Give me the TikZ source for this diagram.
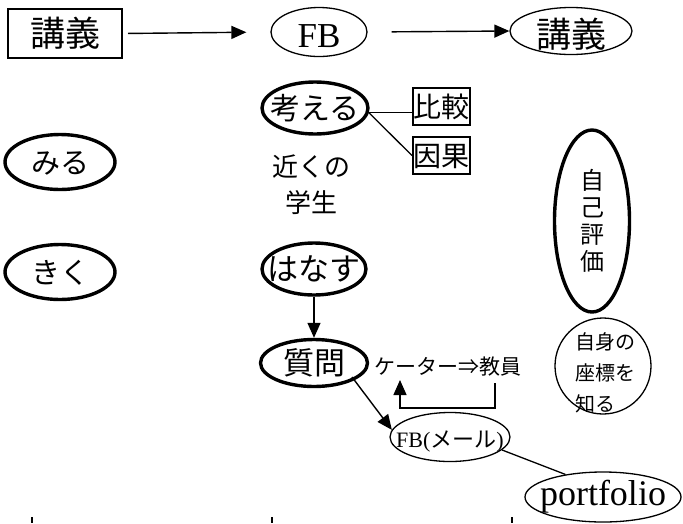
\documentclass[tikz,border=0pt]{standalone}
\usepackage{fontspec}
\setmainfont{Liberation Serif}
\newfontfamily\jp{Noto Sans CJK JP}
\usetikzlibrary{shapes.geometric,arrows.meta,calc}
\newcommand{\ctext}[2][0.38em]{\makebox[0pt]{\raisebox{-#1}[0pt][0pt]{#2}}}
\newcommand{\fs}[1]{\fontsize{#1}{#1}\selectfont}
\begin{document}
\begin{tikzpicture}[x=1pt,y=-1pt,
  thinline/.style={line width=1.3pt},
  thickell/.style={ellipse, draw, line width=3.4pt, inner sep=0pt},
  thinell/.style={ellipse, draw, line width=1.3pt, inner sep=0pt},
  sqbox/.style={rectangle, draw, line width=2pt, inner sep=0pt},
  arr/.style={line width=1.4pt, -{Triangle[length=15pt,width=13pt]}},
  txt/.style={inner sep=0pt}]
\useasboundingbox (0,0) rectangle (683,523);

% top row
\node[sqbox, minimum width=114pt, minimum height=49pt, font=\jp\fs{35}] (lec1) at (65,33.5) {\ctext{講義}};
\node[thinell, minimum width=96pt, minimum height=49pt, font=\fs{35}] (fb) at (319,32) {\ctext[15pt]{FB}};
\node[thinell, minimum width=122pt, minimum height=47pt, font=\jp\fs{35}] (lec2) at (571,31) {\ctext[0.46em]{講義}};

% middle column
\node[thickell, minimum width=106pt, minimum height=52pt, font=\jp\fs{30}] (think) at (315,108) {\ctext{考える}};
\node[sqbox, minimum width=57pt, minimum height=37pt, font=\jp\fs{28}] (comp) at (441.5,106.5) {\ctext{比較}};
\node[sqbox, minimum width=57pt, minimum height=37pt, font=\jp\fs{28}] (cause) at (441.5,155.5) {\ctext{因果}};
\node[txt, align=center, font=\jp\fontsize{26}{36}\selectfont] (near) at (311.5,185) {近くの\\学生};
\node[thickell, minimum width=104pt, minimum height=52pt, font=\jp\fs{31}] (talk) at (314,269) {\ctext{はなす}};
\node[thickell, minimum width=107pt, minimum height=47pt, font=\jp\fs{31}] (ask) at (314,363) {\ctext{質問}};
\node[txt, font=\jp\fs{21}] (cater) at (447.5,367) {ケーター⇒教員};
\node[thinell, minimum width=120pt, minimum height=49pt, font=\fs{22}] (mail) at (450,437) {\ctext[10pt]{FB({\jp メール})}};
\node[thinell, minimum width=156pt, minimum height=50pt, font=\fs{36}] (port) at (603,497) {\ctext[8pt]{portfolio}};

% left column
\node[thickell, minimum width=110pt, minimum height=55pt, font=\jp\fs{29}] (see) at (60,162) {\ctext{みる}};
\node[thickell, minimum width=110pt, minimum height=55pt, font=\jp\fs{29}] (hear) at (60,272) {\ctext{きく}};

% right column
\node[thickell, minimum width=75pt, minimum height=182pt, align=center, font=\jp\fontsize{24}{27}\selectfont] (self) at (592,221) {自\\己\\評\\価};
\node[circle, draw, line width=1.3pt, minimum size=96pt, inner sep=0pt] (coord) at (603,366) {};
\node[txt, align=left, font=\jp\fontsize{20}{31}\selectfont] (coordtxt) at (605,373) {自身の\\座標を\\知る};

% connectors
\draw[arr, shorten <=5pt, shorten >=24pt] (lec1.east) -- (fb.west);
\draw[arr, shorten <=24pt] (fb.east) -- (lec2.west);
\draw[thinline] (think.-5) -- (think.-5 -| comp.west);
\draw[thinline] (think.-5) -- (cause.west);
\draw[arr] (talk.south) -- (ask.north);
\draw[arr] ($(ask.center)+(38,14)$) -- (mail.173);
\coordinate (fbA) at (495,383);
\coordinate (fbB) at (400,380);
\draw[arr] (fbA) -- ++(0,25) -| (fbB);
\draw[thinline] (mail.-14) -- (port.149);

% ticks at bottom
\foreach \x in {32,272,512} \draw[line width=1.5pt] (\x,517) -- (\x,523);
\end{tikzpicture}
\end{document}
